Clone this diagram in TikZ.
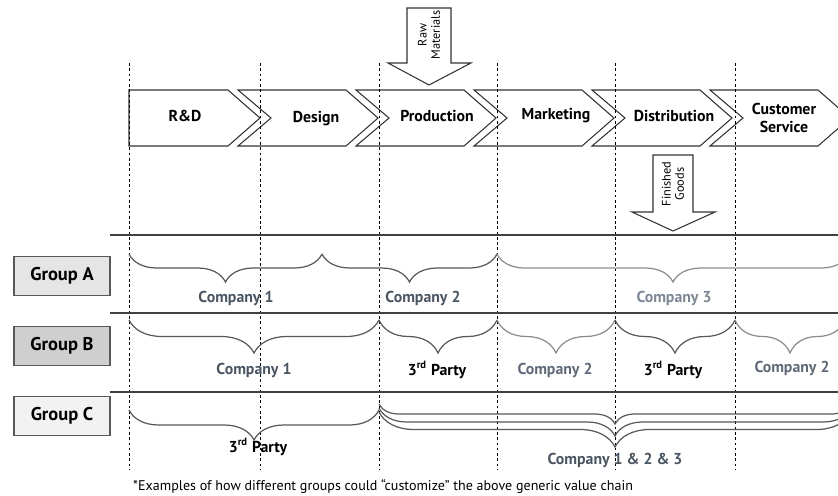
\documentclass[tikz,border=0pt]{standalone}
\usepackage{fontspec}
\setmainfont{PT Sans}
\usetikzlibrary{decorations.pathreplacing}
\definecolor{codark}{HTML}{4A5562}
\definecolor{comid}{HTML}{5F6977}
\definecolor{colight}{HTML}{7D8794}
\tikzset{
  mychevron/.style = {draw=black!80, fill=white, line width=0.6pt},
  mystage/.style = {font=\fontsize{9}{10}\selectfont\bfseries, align=center},
  myinput/.style = {draw=black!80, fill=white, line width=0.6pt},
  mynote/.style = {font=\fontsize{7}{7.5}\selectfont, align=center, rotate=90},
  mydash/.style = {dash pattern=on 1.5pt off 1.5pt, line width=0.5pt},
  myrule/.style = {line width=1pt, draw=black!75},
  mygroup/.style = {draw=black!65, line width=0.9pt, minimum width=1.92cm, minimum height=0.78cm, font=\fontsize{10.5}{12}\selectfont\bfseries},
  mybrace/.style = {decorate, decoration={brace, mirror, amplitude=#1}, line width=0.7pt, draw=black!65},
  mylabel/.style = {font=\fontsize{9}{10}\selectfont\bfseries},
}

\begin{document}
\begin{tikzpicture}[x=0.02cm, y=-0.02cm]
\useasboundingbox (0,0) rectangle (838,495);
% generic value chain
\draw[mychevron] (129,90) -- (228,90) -- (260,118) -- (228,146) -- (129,146) -- cycle;
\foreach \x in {238,356,474,592,710}
  \draw[mychevron] (\x,90) -- ++(108,0) -- ++(32,28) -- ++(-32,28) -- ++(-108,0) -- ++(33,-28) -- cycle;
\foreach \x in {129,260,379,497,615,735}
  \draw[mydash] (\x,63) -- (\x,469);
\node[mystage] (rd) at (185,116) {R\&D};
\node[mystage] (design) at (316,119) {Design};
\node[mystage] (prod) at (437,116) {Production};
\node[mystage] (mkt) at (556,116) {Marketing};
\node[mystage] (dist) at (674,116) {Distribution};
\node[mystage] (cs) at (784,118) {Customer\\Service};
% inputs and outputs
\draw[myinput] (407,8) -- (451,8) -- (451,63) -- (471,63) -- (429,85) -- (388,63) -- (407,63) -- cycle;
\node[mynote] (raw) at (429,35) {Raw\\Materials};
\draw[myinput] (653,155) -- (693,155) -- (693,212) -- (715,212) -- (673,231) -- (632,212) -- (653,212) -- cycle;
\node[mynote] (fin) at (673,184) {Finished\\Goods};
% groups
\foreach \y in {235,313,392}
  \draw[myrule] (110,\y) -- (838,\y);
\node[mygroup, fill=black!10] (ga) at (62,276) {Group A};
\node[mygroup, fill=black!19] (gb) at (62,346) {Group B};
\node[mygroup, fill=black!5] (gc) at (62,416) {Group C};
% group A
\draw[mybrace=0.56cm] (129,254) -- (322,254);
\draw[mybrace=0.56cm] (322,254) -- (497,254);
\draw[mybrace=0.56cm, draw=black!45] (497,254) -- (849,254);
\node[mylabel, text=codark] (a1) at (236,298) {Company 1};
\node[mylabel, text=codark] (a2) at (423,298) {Company 2};
\node[mylabel, text=colight] (a3) at (674,298) {Company 3};
% group B
\draw[mybrace=0.66cm] (129,320) -- (379,320);
\draw[mybrace=0.66cm] (379,320) -- (497,320);
\draw[mybrace=0.66cm, draw=black!45] (497,320) -- (615,320);
\draw[mybrace=0.66cm] (615,320) -- (735,320);
\draw[mybrace=0.66cm, draw=black!45] (735,320) -- (845,320);
\node[mylabel, text=codark] (b1) at (254,370) {Company 1};
\node[mylabel] (b2) at (437,370) {3\textsuperscript{rd} Party};
\node[mylabel, text=comid] (b3) at (555,370) {Company 2};
\node[mylabel] (b4) at (673,370) {3\textsuperscript{rd} Party};
\node[mylabel, text=comid] (b5) at (792,368) {Company 2};
% group C
\draw[mybrace=0.6cm] (129,410) -- (379,410);
\draw[mybrace=0.4cm] (379,404) -- (851,404);
\draw[mybrace=0.56cm] (379,408) -- (851,408);
\draw[mybrace=0.7cm] (379,412) -- (851,412);
\node[mylabel] (c1) at (258,447) {3\textsuperscript{rd} Party};
\node[mylabel, text=codark] (c2) at (615,460) {Company 1 \& 2 \& 3};
\node[font=\fontsize{8}{9}\selectfont, anchor=west] (note) at (127,487) {*Examples of how different groups could “customize” the above generic value chain};
\end{tikzpicture}
\end{document}
